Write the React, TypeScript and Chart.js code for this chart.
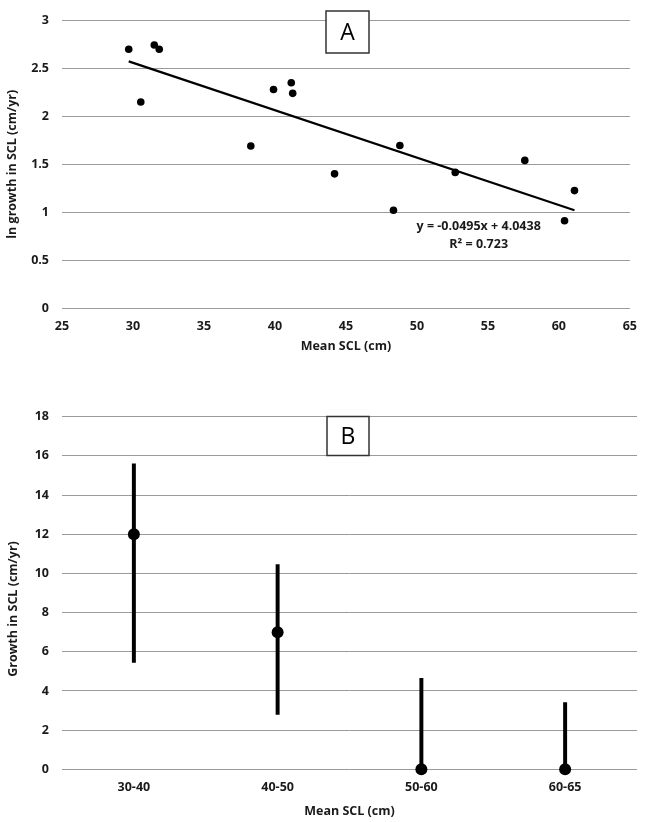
import React, { useEffect, useRef } from "react";
import { Chart, registerables } from "chart.js";

Chart.register(...registerables);

// ---- Panel A data ----
const meanSclA = [29.7, 30.55, 31.5, 31.85, 38.3, 39.9, 41.15, 41.25, 44.2, 48.35, 48.8, 52.7, 57.6, 60.4, 61.1];
const lnGrowthA = [2.7, 2.15, 2.745, 2.7, 1.69, 2.28, 2.35, 2.24, 1.4, 1.02, 1.695, 1.415, 1.54, 0.91, 1.225];
const trendSlope = -0.0495;
const trendIntercept = 4.0438;
const rSquared = 0.723;
const xTicksA = [25, 30, 35, 40, 45, 50, 55, 60, 65];
const yTicksA = [0, 0.5, 1, 1.5, 2, 2.5, 3];

// ---- Panel B data ----
const sizeClasses = ["30-40", "40-50", "50-60", "60-65"];
const meanGrowthB = [12, 7, 0, 0];
const lowGrowthB = [5.45, 2.8, 0, 0];
const highGrowthB = [15.6, 10.45, 4.65, 3.4];
const yTicksB = [0, 2, 4, 6, 8, 10, 12, 14, 16, 18];

const FONT = "'Open Sans', Lato, 'DejaVu Sans', sans-serif";
const TEXT = "#1a1a1a";
const GRID = "#9a9a9a";

const tickFont = { family: FONT, size: 12.5, weight: "bold" as const };
const titleFont = { family: FONT, size: 12.5, weight: "bold" as const };

function drawBox(ctx: CanvasRenderingContext2D, x: number, y: number, w: number, h: number, label: string) {
  ctx.save();
  ctx.fillStyle = "#ffffff";
  ctx.fillRect(x, y, w, h);
  ctx.strokeStyle = "#333333";
  ctx.lineWidth = 1.5;
  ctx.strokeRect(x, y, w, h);
  ctx.fillStyle = "#000000";
  ctx.font = `23px ${FONT}`;
  ctx.textAlign = "center";
  ctx.textBaseline = "middle";
  ctx.fillText(label, x + w / 2, y + h / 2 + 1);
  ctx.restore();
}

const annotA = {
  id: "annotA",
  afterDraw(chart: any) {
    const ctx = chart.ctx as CanvasRenderingContext2D;
    drawBox(ctx, 326, 11, 43, 42, "A");
    const xs = chart.scales.x;
    const ys = chart.scales.y;
    const cx = xs.getPixelForValue(54.35);
    ctx.save();
    ctx.fillStyle = TEXT;
    ctx.font = `bold 12.5px ${FONT}`;
    ctx.textAlign = "center";
    ctx.textBaseline = "middle";
    const sign = trendIntercept >= 0 ? "+" : "-";
    ctx.fillText(`y = ${trendSlope}x ${sign} ${Math.abs(trendIntercept)}`, cx, ys.getPixelForValue(0.848));
    ctx.fillText(`R\u00B2 = ${rSquared}`, cx, ys.getPixelForValue(0.664));
    ctx.restore();
  },
};

const annotB = {
  id: "annotB",
  afterDraw(chart: any) {
    const ctx = chart.ctx as CanvasRenderingContext2D;
    drawBox(ctx, 327, 46.5, 42, 39, "B");
    ctx.save();
    ctx.fillStyle = TEXT;
    ctx.font = `bold 12.5px ${FONT}`;
    ctx.textAlign = "center";
    ctx.textBaseline = "middle";
    ctx.translate(13.5, 239);
    ctx.rotate(-Math.PI / 2);
    ctx.fillText("Growth in SCL (cm/yr)", 0, 0);
    ctx.restore();
  },
};

const plainLabel = (v: any) => String(v);

export default function App() {
  const refA = useRef<HTMLCanvasElement>(null);
  const refB = useRef<HTMLCanvasElement>(null);

  useEffect(() => {
    const xmin = Math.min(...meanSclA);
    const xmax = Math.max(...meanSclA);
    const trend = [xmin, xmax].map((x) => ({ x, y: trendSlope * x + trendIntercept }));

    const chartA = new Chart(refA.current!, {
      type: "scatter",
      data: {
        datasets: [
          {
            type: "line",
            data: trend,
            borderColor: "#000",
            borderWidth: 2.2,
            pointRadius: 0,
            fill: false,
          } as any,
          {
            data: meanSclA.map((x, i) => ({ x, y: lnGrowthA[i] })),
            backgroundColor: "#000",
            borderColor: "#000",
            pointRadius: 3.8,
            pointBorderWidth: 0,
          },
        ],
      },
      options: {
        responsive: false,
        animation: false,
        events: [],
        layout: { padding: { top: 9.3, right: 11, left: 0, bottom: 0 } },
        plugins: { legend: { display: false }, tooltip: { enabled: false } },
        scales: {
          x: {
            type: "linear",
            min: xTicksA[0],
            max: xTicksA[xTicksA.length - 1],
            afterBuildTicks: (s: any) => {
              s.ticks = xTicksA.map((v) => ({ value: v }));
            },
            afterFit: (s: any) => {
              s.height = 52;
            },
            grid: { display: false, drawTicks: false },
            border: { display: false },
            ticks: { color: TEXT, font: tickFont, padding: 11, callback: plainLabel },
            title: {
              display: true,
              text: "Mean SCL (cm)",
              color: TEXT,
              font: titleFont,
              padding: { top: 0, bottom: 6 },
            },
          },
          y: {
            type: "linear",
            min: yTicksA[0],
            max: yTicksA[yTicksA.length - 1],
            afterBuildTicks: (s: any) => {
              s.ticks = yTicksA.map((v) => ({ value: v }));
            },
            afterFit: (s: any) => {
              s.width = 62;
            },
            grid: { color: GRID, lineWidth: 1, drawTicks: false },
            border: { display: false },
            ticks: { color: TEXT, font: tickFont, padding: 13, callback: plainLabel },
            title: {
              display: true,
              text: "ln growth in SCL (cm/yr)",
              color: TEXT,
              font: titleFont,
              padding: { top: 5, bottom: 0 },
            },
          },
        },
      },
      plugins: [annotA],
    });

    const chartB = new Chart(refB.current!, {
      type: "bar",
      data: {
        labels: sizeClasses,
        datasets: [
          {
            type: "line",
            data: meanGrowthB,
            showLine: false,
            pointRadius: 6,
            pointBorderWidth: 0,
            backgroundColor: "#000",
            borderColor: "#000",
            clip: false,
            order: 0,
          } as any,
          {
            type: "bar",
            data: lowGrowthB.map((lo, i) => [lo, highGrowthB[i]]),
            backgroundColor: "#000",
            borderWidth: 0,
            barThickness: 3.3,
            order: 1,
          },
        ],
      },
      options: {
        responsive: false,
        animation: false,
        events: [],
        layout: { padding: { top: 46.7, right: 11, left: 0, bottom: 0 } },
        plugins: { legend: { display: false }, tooltip: { enabled: false } },
        scales: {
          x: {
            type: "category",
            offset: true,
            afterFit: (s: any) => {
              s.height = 52.7;
            },
            grid: { display: false, drawTicks: false },
            border: { display: false },
            ticks: { color: TEXT, font: tickFont, padding: 11 },
            title: {
              display: true,
              text: "Mean SCL (cm)",
              color: TEXT,
              font: titleFont,
              padding: { top: 0, bottom: 3.5 },
            },
          },
          y: {
            type: "linear",
            min: yTicksB[0],
            max: yTicksB[yTicksB.length - 1],
            afterBuildTicks: (s: any) => {
              s.ticks = yTicksB.map((v) => ({ value: v }));
            },
            afterFit: (s: any) => {
              s.width = 62;
            },
            grid: { color: GRID, lineWidth: 1, drawTicks: false },
            border: { display: false },
            ticks: { color: TEXT, font: tickFont, padding: 13, callback: plainLabel },
          },
        },
      },
      plugins: [annotB],
    });

    return () => {
      chartA.destroy();
      chartB.destroy();
    };
  }, []);

  return (
    <div style={{ position: "absolute", left: 0, top: 0, width: 648, height: 822, background: "#fff" }}>
      <canvas
        ref={refA}
        width={648}
        height={360}
        style={{ position: "absolute", left: 0, top: 0, width: 648, height: 360 }}
      />
      <canvas
        ref={refB}
        width={648}
        height={452}
        style={{ position: "absolute", left: 0, top: 370, width: 648, height: 452 }}
      />
    </div>
  );
}
